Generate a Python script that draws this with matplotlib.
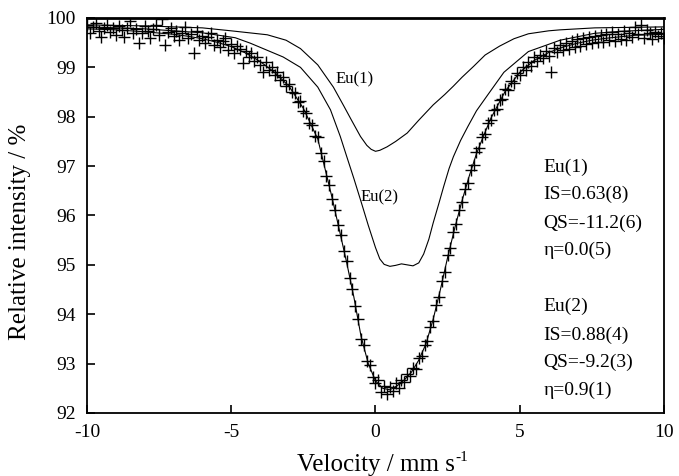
from matplotlib import pyplot as plt

plt.rcParams['font.family'] = ['Liberation Serif', 'DejaVu Serif']
plt.rcParams['axes.unicode_minus'] = False

# measured spectrum, velocity in mm/s
velocity = [
    -10.0, -9.9, -9.8, -9.7, -9.6, -9.5, -9.4, -9.3, -9.2, -9.1,
    -9.0, -8.9, -8.8, -8.7, -8.6, -8.5, -8.4, -8.3, -8.2, -8.1,
    -8.0, -7.9, -7.8, -7.7, -7.6, -7.5, -7.4, -7.3, -7.2, -7.1,
    -7.0, -6.9, -6.8, -6.7, -6.6, -6.5, -6.4, -6.3, -6.2, -6.1,
    -6.0, -5.9, -5.8, -5.7, -5.6, -5.5, -5.4, -5.3, -5.2, -5.1,
    -5.0, -4.9, -4.8, -4.7, -4.6, -4.5, -4.4, -4.3, -4.2, -4.1,
    -4.0, -3.9, -3.8, -3.7, -3.6, -3.5, -3.4, -3.3, -3.2, -3.1,
    -3.0, -2.9, -2.8, -2.7, -2.6, -2.5, -2.4, -2.3, -2.2, -2.1,
    -2.0, -1.9, -1.8, -1.7, -1.6, -1.5, -1.4, -1.3, -1.2, -1.1,
    -1.0, -0.9, -0.8, -0.7, -0.6, -0.5, -0.4, -0.3, -0.2, -0.1,
    0.0, 0.1, 0.2, 0.3, 0.4, 0.5, 0.6, 0.7, 0.8, 0.9,
    1.0, 1.1, 1.2, 1.3, 1.4, 1.5, 1.6, 1.7, 1.8, 1.9,
    2.0, 2.1, 2.2, 2.3, 2.4, 2.5, 2.6, 2.7, 2.8, 2.9,
    3.0, 3.1, 3.2, 3.3, 3.4, 3.5, 3.6, 3.7, 3.8, 3.9,
    4.0, 4.1, 4.2, 4.3, 4.4, 4.5, 4.6, 4.7, 4.8, 4.9,
    5.0, 5.1, 5.2, 5.3, 5.4, 5.5, 5.6, 5.7, 5.8, 5.9,
    6.0, 6.1, 6.2, 6.3, 6.4, 6.5, 6.6, 6.7, 6.8, 6.9,
    7.0, 7.1, 7.2, 7.3, 7.4, 7.5, 7.6, 7.7, 7.8, 7.9,
    8.0, 8.1, 8.2, 8.3, 8.4, 8.5, 8.6, 8.7, 8.8, 8.9,
    9.0, 9.1, 9.2, 9.3, 9.4, 9.5, 9.6, 9.7, 9.8, 9.9,
    10.0]
intensity = [
    99.85, 99.70, 99.82, 99.90, 99.73, 99.62, 99.80, 99.86, 99.71, 99.79,
    99.66, 99.84, 99.75, 99.62, 99.80, 99.93, 99.70, 99.78, 99.50, 99.69,
    99.83, 99.74, 99.60, 99.77, 99.85, 99.66, 99.97, 99.46, 99.72, 99.80,
    99.63, 99.74, 99.55, 99.70, 99.81, 99.60, 99.68, 99.30, 99.73, 99.55,
    99.64, 99.49, 99.62, 99.70, 99.45, 99.56, 99.41, 99.53, 99.60, 99.36,
    99.47, 99.30, 99.44, 99.38, 99.08, 99.33, 99.20, 99.29, 99.13, 99.22,
    99.05, 98.90, 99.10, 98.94, 99.00, 98.84, 98.90, 98.74, 98.80, 98.62,
    98.66, 98.50, 98.49, 98.30, 98.31, 98.12, 98.08, 97.88, 97.84, 97.62,
    97.58, 97.27, 97.10, 96.80, 96.62, 96.33, 96.12, 95.80, 95.60, 95.28,
    95.08, 94.74, 94.52, 94.16, 93.90, 93.50, 93.37, 93.06, 92.98, 92.72,
    92.60, 92.66, 92.42, 92.55, 92.38, 92.52, 92.44, 92.60, 92.50, 92.67,
    92.62, 92.78, 92.74, 92.92, 92.90, 93.12, 93.15, 93.38, 93.46, 93.74,
    93.86, 94.18, 94.34, 94.67, 94.85, 95.19, 95.35, 95.67, 95.82, 96.12,
    96.27, 96.54, 96.66, 96.93, 97.03, 97.29, 97.36, 97.59, 97.65, 97.88,
    97.93, 98.13, 98.15, 98.34, 98.36, 98.57, 98.55, 98.73, 98.69, 98.88,
    98.84, 99.01, 98.94, 99.10, 99.03, 99.20, 99.12, 99.26, 99.18, 99.33,
    99.24, 98.90, 99.40, 99.31, 99.46, 99.35, 99.50, 99.38, 99.53, 99.42,
    99.57, 99.44, 99.60, 99.47, 99.62, 99.50, 99.64, 99.51, 99.66, 99.52,
    99.68, 99.56, 99.72, 99.53, 99.67, 99.58, 99.74, 99.55, 99.70, 99.62,
    99.82, 99.68, 99.86, 99.60, 99.75, 99.70, 99.58, 99.72, 99.63, 99.69,
    99.60]

# total fit
fit_v = [-10.0, -9.0, -8.0, -7.0, -6.5, -6.0, -5.5, -5.0, -4.5, -4.0, -3.5, -3.0,
         -2.5, -2.0, -1.5, -1.0, -0.75, -0.5, -0.25, 0.0, 0.25, 0.5, 0.75, 1.0,
         1.25, 1.5, 1.75, 2.0, 2.25, 2.5, 2.75, 3.0, 3.25, 3.5, 3.75, 4.0, 4.5,
         5.0, 5.5, 6.0, 6.5, 7.0, 7.5, 8.0, 9.0, 10.0]
fit_i = [99.78, 99.76, 99.72, 99.67, 99.63, 99.58, 99.51, 99.42, 99.29, 99.12, 98.90, 98.62,
         98.17, 97.55, 96.35, 95.05, 94.35, 93.55, 93.00, 92.65, 92.50, 92.47, 92.55, 92.67,
         92.83, 93.07, 93.40, 93.90, 94.50, 95.15, 95.75, 96.30, 96.80, 97.25, 97.62, 97.97, 98.52,
         98.90, 99.14, 99.30, 99.41, 99.49, 99.55, 99.59, 99.65, 99.67]

# Eu(1) subspectrum
eu1_v = [-10.0, -8.0, -6.0, -5.0, -3.75, -3.1, -2.6, -2.0, -1.46, -1.1, -0.85, -0.52,
         -0.3, -0.15, 0.0, 0.15, 0.4, 0.7, 1.1, 1.5, 2.0, 2.4, 2.7, 3.0, 3.4, 3.8,
         4.3, 4.8, 5.3, 6.0, 6.4, 7.6, 10.0]
eu1_i = [99.86, 99.84, 99.80, 99.74, 99.66, 99.55, 99.38, 99.05, 98.60, 98.22, 97.95, 97.60,
         97.42, 97.34, 97.30, 97.32, 97.39, 97.50, 97.67, 97.93, 98.24, 98.45, 98.62, 98.80, 99.02, 99.25,
         99.43, 99.58, 99.68, 99.74, 99.76, 99.80, 99.82]

# Eu(2) subspectrum
eu2_v = [-10.0, -8.0, -6.0, -4.86, -4.34, -3.2, -2.6, -2.0, -1.56, -1.22, -1.0, -0.75,
         -0.5, -0.25, 0.0, 0.15, 0.3, 0.5, 0.7, 0.9, 1.1, 1.3, 1.5, 1.67, 1.85, 2.0,
         2.2, 2.36, 2.55, 2.7, 2.95, 3.2, 3.5, 3.9, 4.45, 5.3, 6.4, 7.6, 8.5, 10.0]
eu2_i = [99.82, 99.78, 99.70, 99.60, 99.49, 99.21, 99.00, 98.60, 98.14, 97.60, 97.20, 96.75,
         96.28, 95.80, 95.35, 95.12, 95.01, 94.97, 94.99, 95.02, 95.00, 94.98, 95.04, 95.22, 95.52, 95.85,
         96.25, 96.58, 96.95, 97.19, 97.52, 97.80, 98.12, 98.45, 98.90, 99.32, 99.55, 99.69, 99.73, 99.77]

labels_eu1 = ['Eu(1)', 'IS=0.63(8)', 'QS=-11.2(6)', '\u03b7=0.0(5)']
labels_eu2 = ['Eu(2)', 'IS=0.88(4)', 'QS=-9.2(3)', '\u03b7=0.9(1)']

fig = plt.figure(figsize=(6.79, 4.76), dpi=100)
ax = fig.add_axes([0.1281, 0.1324, 0.8498, 0.8298])

ax.plot(velocity, intensity, '+', color='black', markersize=8.5, markeredgewidth=1.0)
ax.plot(fit_v, fit_i, color='black', lw=0.8)
ax.plot(eu1_v, eu1_i, color='black', lw=0.8)
ax.plot(eu2_v, eu2_i, color='black', lw=0.8)

ax.text(-1.39, 98.76, 'Eu(1)', fontsize=12, va='center')
ax.text(-0.52, 96.37, 'Eu(2)', fontsize=12, va='center')

y_eu1 = [96.97, 96.42, 95.85, 95.30]
y_eu2 = [94.15, 93.58, 93.03, 92.46]
for t, y in zip(labels_eu1, y_eu1):
    ax.text(5.83, y, t, fontsize=14, va='center')
for t, y in zip(labels_eu2, y_eu2):
    ax.text(5.83, y, t, fontsize=14, va='center')

ax.set_xlim(-10, 10)
ax.set_ylim(92, 100)
ax.set_xticks([-10, -5, 0, 5, 10])
ax.set_yticks(range(92, 101))
ax.tick_params(direction='in', length=6, width=1.2, labelsize=14, pad=8,
               top=False, right=False)

for s in ['left', 'bottom', 'right']:
    ax.spines[s].set_linewidth(1.3)
ax.spines['top'].set_linewidth(2)

ax.set_xlabel('Velocity / mm s', fontsize=18, labelpad=9)
# superscript with a plain hyphen, like the original
ax.annotate('-1', xy=(1.0, 1.0), xycoords=ax.xaxis.label, xytext=(1, 2),
            textcoords='offset points', fontsize=11, ha='left', va='top')
ax.set_ylabel('Relative intensity / %', fontsize=18)
ax.yaxis.set_label_coords(-0.097, 0.458)

plt.savefig('out.png', dpi=100)
